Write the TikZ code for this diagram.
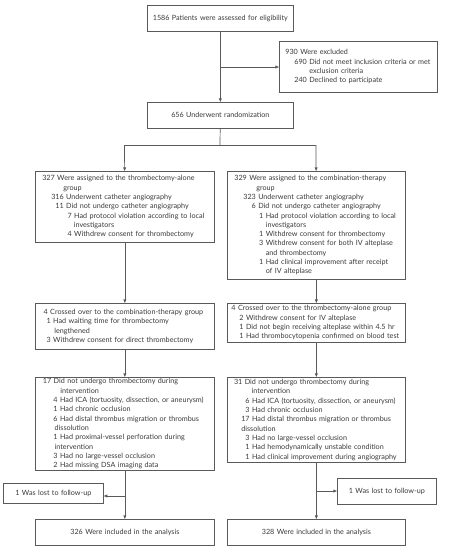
\documentclass[tikz,border=0pt]{standalone}
\usepackage{fontspec}
\setmainfont{Lato}
\usetikzlibrary{arrows.meta}
\definecolor{ink}{HTML}{3A3A3A}
\definecolor{edgec}{HTML}{5A5A5A}
\newcommand\numln[3]{\mbox{\hspace*{#1pt}\llap{#2}\hspace{2.4pt}#3}}
\newcommand\contln[2]{\mbox{\hspace*{#1pt}#2}}
\begin{document}
\begin{tikzpicture}[x=1pt,y=-1pt,
  txt/.style={text=ink, font=\fontsize{7.2}{9.3}\selectfont},
  lbox/.style={txt, draw=edgec, line width=0.7pt, inner xsep=0pt, inner ysep=0pt,
    align=left, anchor=north west},
  cbox/.style={txt, draw=edgec, line width=0.7pt, inner xsep=0pt, inner ysep=0pt,
    align=center, anchor=north west},
  conn/.style={draw=edgec, line width=0.7pt},
  arr/.style={conn, -{Triangle[length=3.6pt,width=2.8pt]}}]
\fill[white] (0,0) rectangle (474,546);
\useasboundingbox (0,0) rectangle (474,546);

\node[cbox, text width=146pt, minimum width=146pt, minimum height=26pt] (elig) at (147,5)
  {1586 Patients were assessed for eligibility};

\node[lbox, text width=158pt, minimum width=158pt, minimum height=51pt] (excl) at (279,41)
  {\numln{18.5}{930}{Were excluded}\\
   \numln{27.5}{690}{Did not meet inclusion criteria or met}\\
   \contln{30}{exclusion criteria}\\
   \numln{27.5}{240}{Declined to participate}};

\node[cbox, text width=146pt, minimum width=146pt, minimum height=26pt] (rand) at (147,102)
  {656 Underwent randomization};

\node[lbox, text width=179pt, minimum width=179pt, minimum height=71pt] (L1) at (35,171)
  {\numln{19.5}{327}{Were assigned to the thrombectomy-alone}\\
   \contln{28}{group}\\
   \numln{28.5}{316}{Underwent catheter angiography}\\
   \numln{28.5}{11}{Did not undergo catheter angiography}\\
   \numln{36.5}{7}{Had protocol violation according to local}\\
   \contln{38.5}{investigators}\\
   \numln{36.5}{4}{Withdrew consent for thrombectomy}};

\node[lbox, text width=178pt, minimum width=178pt, minimum height=108pt] (R1) at (227,171)
  {\numln{19.5}{329}{Were assigned to the combination-therapy}\\
   \contln{29}{group}\\
   \numln{28.5}{323}{Underwent catheter angiography}\\
   \numln{28.5}{6}{Did not undergo catheter angiography}\\
   \numln{36}{1}{Had protocol violation according to local}\\
   \contln{38.5}{investigators}\\
   \numln{36}{1}{Withdrew consent for thrombectomy}\\
   \numln{36}{3}{Withdrew consent for both IV alteplase}\\
   \contln{38.5}{and thrombectomy}\\
   \numln{36}{1}{Had clinical improvement after receipt}\\
   \contln{38.5}{of IV alteplase}};

\node[lbox, text width=179pt, minimum width=179pt, minimum height=46pt] (L2) at (35,303)
  {\numln{12.5}{4}{Crossed over to the combination-therapy group}\\
   \numln{15.5}{1}{Had waiting time for thrombectomy}\\
   \contln{19}{lengthened}\\
   \numln{15.5}{3}{Withdrew consent for direct thrombectomy}};

\node[lbox, text width=178pt, minimum width=178pt, minimum height=39pt] (R2) at (227,303)
  {\numln{8.3}{4}{Crossed over to the thrombectomy-alone group}\\
   \numln{16.3}{2}{Withdrew consent for IV alteplase}\\
   \numln{16.3}{1}{Did not begin receiving alteplase within 4.5 hr}\\
   \numln{16.3}{1}{Had thrombocytopenia confirmed on blood test}};

\node[lbox, text width=179pt, minimum width=179pt, minimum height=93pt] (L3) at (35,377)
  {\numln{16}{17}{Did not undergo thrombectomy during}\\
   \contln{25}{intervention}\\
   \numln{22.3}{4}{Had ICA (tortuosity, dissection, or aneurysm)}\\
   \numln{22.3}{1}{Had chronic occlusion}\\
   \numln{22.3}{6}{Had distal thrombus migration or thrombus}\\
   \contln{19.3}{dissolution}\\
   \numln{22.3}{1}{Had proximal-vessel perforation during}\\
   \contln{19.3}{intervention}\\
   \numln{22.3}{3}{Had no large-vessel occlusion}\\
   \numln{22.3}{2}{Had missing DSA imaging data}};

\node[lbox, text width=178pt, minimum width=178pt, minimum height=85pt] (R3) at (227,377)
  {\numln{15}{31}{Did not undergo thrombectomy during}\\
   \contln{24.3}{intervention}\\
   \numln{22.3}{6}{Had ICA (tortuosity, dissection, or aneurysm)}\\
   \numln{22.3}{3}{Had chronic occlusion}\\
   \numln{22.3}{17}{Had distal thrombus migration or thrombus}\\
   \contln{14}{dissolution}\\
   \numln{22.3}{3}{Had no large-vessel occlusion}\\
   \numln{22.3}{1}{Had hemodynamically unstable condition}\\
   \numln{22.3}{1}{Had clinical improvement during angiography}};

\node[cbox, text width=100pt, minimum width=100pt, minimum height=20pt] (LL) at (3,483)
  {1 Was lost to follow-up};
\node[cbox, text width=99pt, minimum width=99pt, minimum height=26pt] (RL) at (337,478)
  {1 Was lost to follow-up};

\node[cbox, text width=179pt, minimum width=179pt, minimum height=26pt] (LF) at (35,519)
  {326 Were included in the analysis};
\node[cbox, text width=178pt, minimum width=178pt, minimum height=26pt] (RF) at (227,519)
  {328 Were included in the analysis};

% connectors
\draw[arr] (elig) -- (rand);
\coordinate (ex) at (220,67);
\draw[arr] (ex) -- (ex -| excl.west);
\coordinate (split) at (220,145);
\coordinate (sl) at (124.5,145);
\coordinate (sr) at (316,145);
\draw[conn] (rand) -- (split);
\draw[conn] (sl) -- (sr);
\draw[arr] (sl) -- (L1);
\draw[arr] (sr) -- (R1);
\draw[arr] (L1) -- (L2);
\draw[arr] (R1) -- (R2);
\draw[arr] (L2) -- (L3);
\draw[arr] (R2) -- (R3);
\draw[arr] (L3) -- (LF);
\draw[arr] (R3) -- (RF);
\coordinate (lb) at (124.5,496);
\draw[arr] (lb) -- (lb -| LL.east);
\coordinate (rb) at (316,491);
\draw[arr] (rb) -- (rb -| RL.west);
\end{tikzpicture}
\end{document}
